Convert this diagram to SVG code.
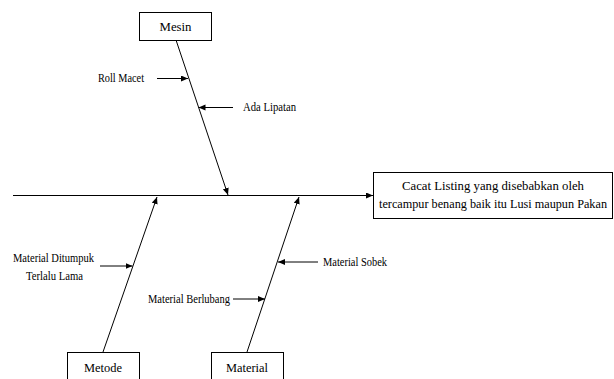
<svg xmlns="http://www.w3.org/2000/svg" width="614" height="379" viewBox="0 0 614 379">
<style>
.box{fill:#fff;stroke:#000;stroke-width:1}
.ln{stroke:#000;stroke-width:1;fill:none;marker-end:url(#ah)}
text{font-family:"Liberation Serif","Times New Roman",serif;fill:#000;font-size:13.5px}
.lbl{text-anchor:middle}
.sm{font-size:12px}
</style>
<defs>
<marker id="ah" markerUnits="userSpaceOnUse" markerWidth="8" markerHeight="8" refX="7" refY="3" orient="auto">
<path d="M0,0 L7,3 L0,6 Z" fill="#000"/>
</marker>
</defs>
<rect width="614" height="379" fill="#fff"/>
<g id="connectors">
<line class="ln" x1="13" y1="195.5" x2="373" y2="195.5"/>
<line class="ln" x1="176" y1="40" x2="228" y2="195"/>
<line class="ln" x1="103" y1="352" x2="157" y2="197"/>
<line class="ln" x1="247" y1="352" x2="299" y2="197"/>
<line class="ln" x1="157" y1="78.5" x2="188" y2="78.5"/>
<line class="ln" x1="233" y1="107.5" x2="198.5" y2="107.5"/>
<line class="ln" x1="100" y1="266" x2="132.5" y2="266"/>
<line class="ln" x1="233" y1="299" x2="265" y2="299"/>
<line class="ln" x1="318" y1="262" x2="278" y2="262"/>
</g>
<g id="effect">
<rect class="box" x="373.5" y="172.5" width="239" height="46"/>
<text class="lbl" x="493" y="190" textLength="182" lengthAdjust="spacingAndGlyphs">Cacat Listing yang disebabkan oleh</text>
<text class="lbl" x="493" y="208" font-size="11" textLength="228" lengthAdjust="spacingAndGlyphs">tercampur benang baik itu Lusi maupun Pakan</text>
</g>
<g id="mesin">
<rect class="box" x="139.5" y="12.5" width="72" height="28"/>
<text class="lbl" x="175.5" y="31" textLength="32" lengthAdjust="spacingAndGlyphs">Mesin</text>
</g>
<g id="metode">
<rect class="box" x="67.5" y="352.5" width="72" height="30"/>
<text class="lbl" x="103" y="372" textLength="38" lengthAdjust="spacingAndGlyphs">Metode</text>
</g>
<g id="material">
<rect class="box" x="211.5" y="352.5" width="72" height="30"/>
<text class="lbl" x="247" y="372" textLength="42" lengthAdjust="spacingAndGlyphs">Material</text>
</g>
<g id="roll-macet">
<text class="sm" x="98" y="82" textLength="46" lengthAdjust="spacingAndGlyphs">Roll Macet</text>
</g>
<g id="ada-lipatan">
<text class="sm" x="243" y="111" textLength="53" lengthAdjust="spacingAndGlyphs">Ada Lipatan</text>
</g>
<g id="material-ditumpuk">
<text class="lbl sm" x="53.5" y="262" textLength="81" lengthAdjust="spacingAndGlyphs">Material Ditumpuk</text>
<text class="lbl sm" x="54.5" y="280" textLength="57" lengthAdjust="spacingAndGlyphs">Terlalu Lama</text>
</g>
<g id="material-berlubang">
<text class="sm" x="148" y="303" textLength="82" lengthAdjust="spacingAndGlyphs">Material Berlubang</text>
</g>
<g id="material-sobek">
<text class="sm" x="323" y="266" textLength="64" lengthAdjust="spacingAndGlyphs">Material Sobek</text>
</g>
</svg>
